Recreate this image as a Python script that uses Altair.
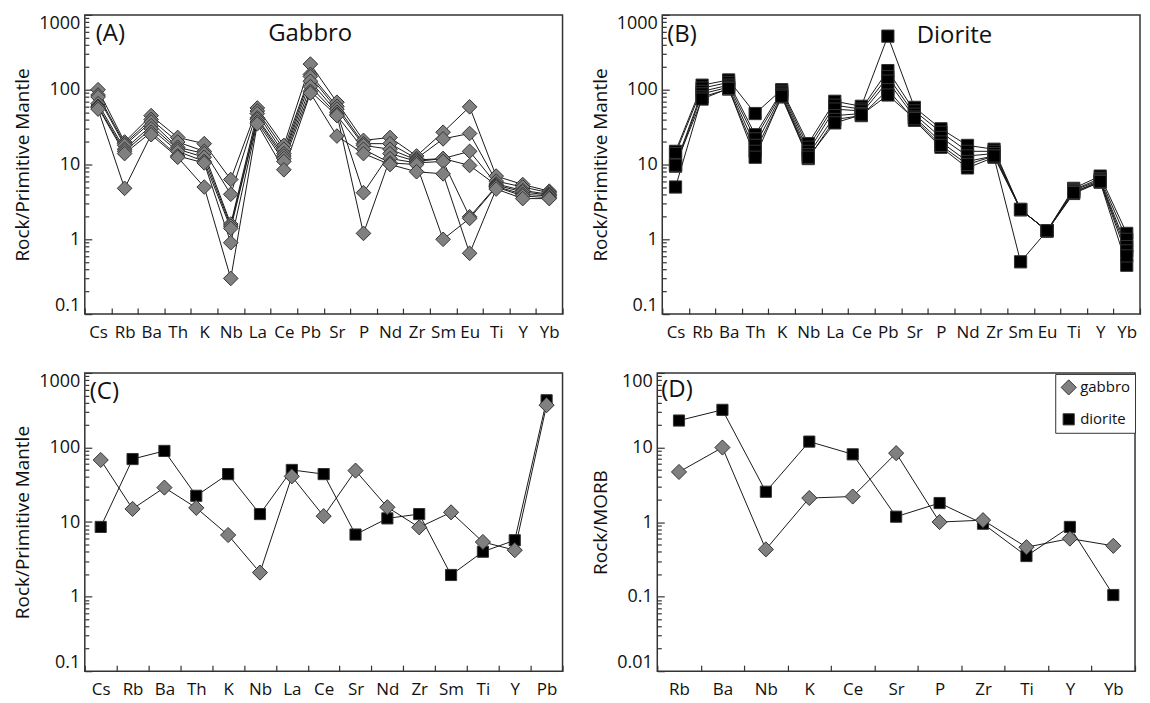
import altair as alt
import pandas as pd

# ---------------- categories ----------------
ELEMENTS_AB = ["Cs", "Rb", "Ba", "Th", "K", "Nb", "La", "Ce", "Pb", "Sr",
               "P", "Nd", "Zr", "Sm", "Eu", "Ti", "Y", "Yb"]
ELEMENTS_C = ["Cs", "Rb", "Ba", "Th", "K", "Nb", "La", "Ce", "Sr", "Nd",
              "Zr", "Sm", "Ti", "Y", "Pb"]
ELEMENTS_D = ["Rb", "Ba", "Nb", "K", "Ce", "Sr", "P", "Zr", "Ti", "Y", "Yb"]

# ---------------- (A) gabbro samples, rock / primitive mantle ----------------
gabbro_1 = [100, 20, 45, 23, 19, 6.3, 57, 18, 220, 68, 21, 23, 13, 27, 59, 7.0, 5.4, 4.4]
gabbro_2 = [85, 19, 40, 20, 15, 4.0, 52, 16, 160, 60, 19, 19, 12, 22, 26, 6.0, 5.0, 4.2]
gabbro_3 = [80, 18, 37, 17, 14, 1.6, 48, 14, 150, 55, 18, 16, 11.5, 12, 15, 5.5, 4.5, 4.0]
gabbro_4 = [65, 16, 33, 16, 12.5, 1.5, 42, 13, 130, 50, 4.2, 14, 11, 12, 9.7, 5.3, 4.3, 3.9]
gabbro_5 = [60, 15, 30, 15, 11, 1.4, 40, 12, 110, 47, 1.2, 12, 10.5, 11, 2.0, 5.1, 4.0, 3.8]
gabbro_6 = [58, 14, 27, 13, 10.5, 0.9, 37, 11, 95, 45, 16, 10.5, 10, 1.0, 1.9, 5.0, 3.8, 3.6]
gabbro_7 = [55, 4.8, 25, 12.5, 5.0, 0.3, 35, 8.5, 90, 24, 14, 10, 8, 7.5, 0.65, 4.7, 3.5, 3.5]

# ---------------- (B) diorite samples, rock / primitive mantle ----------------
diorite_1 = [15, 115, 135, 48, 100, 19, 70, 60, 520, 58, 30, 18, 16, 2.5, 1.3, 4.8, 7.0, 1.2]
diorite_2 = [14, 105, 125, 25, 95, 17, 62, 55, 180, 52, 27, 15, 15, 2.5, 1.3, 4.6, 6.5, 1.0]
diorite_3 = [10, 95, 115, 22, 90, 15, 55, 52, 150, 47, 23, 13, 14, 2.5, 1.3, 4.5, 6.2, 0.8]
diorite_4 = [9.5, 88, 108, 18, 85, 13.5, 45, 48, 130, 43, 20, 11, 13, 2.5, 1.3, 4.3, 6.0, 0.7]
diorite_5 = [5, 80, 102, 15, 80, 12, 40, 45, 100, 39, 17, 9, 12.5, 0.5, 1.3, 4.1, 5.8, 0.45]
diorite_6 = [9.8, 75, 104, 12.5, 82, 12.5, 36, 46, 85, 41, 18, 10, 13, 2.5, 1.3, 4.2, 5.9, 0.6]

# ---------------- (C) averages, rock / primitive mantle ----------------
c_gabbro = [68, 15, 29, 15.5, 6.7, 2.1, 41, 12, 49, 15.8, 8.5, 13.5, 5.4, 4.2, 370]
c_diorite = [8.6, 70, 90, 22.5, 44, 12.8, 50, 44, 6.8, 11.2, 12.8, 1.95, 4.0, 5.7, 430]

# ---------------- (D) averages, rock / MORB ----------------
d_gabbro = [4.7, 10, 0.43, 2.1, 2.2, 8.4, 1.0, 1.06, 0.46, 0.6, 0.48]
d_diorite = [23, 32, 2.55, 12, 8.1, 1.18, 1.8, 0.95, 0.35, 0.86, 0.105]

ROCKS = ["gabbro", "diorite"]

# tick values for the log axes (1-9 per decade)
TICKS_PM = [round(k * 10.0 ** e, 6) for e in range(-1, 3) for k in range(1, 10)] + [1000]
TICKS_MORB = [round(k * 10.0 ** e, 6) for e in range(-2, 2) for k in range(1, 10)] + [100]


def long_table(elements, named_series, rock):
    rows = []
    for name, vals in named_series.items():
        for el, v in zip(elements, vals):
            rows.append({"element": el, "value": v, "sample": name, "rock": rock})
    return pd.DataFrame(rows)


df_a = long_table(ELEMENTS_AB, {"g1": gabbro_1, "g2": gabbro_2, "g3": gabbro_3, "g4": gabbro_4,
                                "g5": gabbro_5, "g6": gabbro_6, "g7": gabbro_7}, "gabbro")
df_b = long_table(ELEMENTS_AB, {"d1": diorite_1, "d2": diorite_2, "d3": diorite_3,
                                "d4": diorite_4, "d5": diorite_5, "d6": diorite_6}, "diorite")
df_c = pd.concat([long_table(ELEMENTS_C, {"dio": c_diorite}, "diorite"),
                  long_table(ELEMENTS_C, {"gab": c_gabbro}, "gabbro")])
df_d = pd.concat([long_table(ELEMENTS_D, {"dio": d_diorite}, "diorite"),
                  long_table(ELEMENTS_D, {"gab": d_gabbro}, "gabbro")])

FONT = "Open Sans"
TXT = "#111111"
EDGE = "#333333"
W = 479
H_TOP, H_BOT = 300, 299

MAJOR = "abs(log(datum.value) / LN10 - round(log(datum.value) / LN10)) < 0.001"


def y_enc(title, domain, ticks, label_size):
    return alt.Y(
        "value:Q",
        scale=alt.Scale(type="log", domain=domain, nice=False),
        axis=alt.Axis(
            title=title, values=ticks, format="~g",
            labelExpr=f"({MAJOR}) ? datum.label : ''",
            labelFontSize={"condition": {"test": MAJOR, "value": label_size}, "value": 0},
            tickSize={"condition": {"test": MAJOR, "value": -7}, "value": -4},
            tickColor=EDGE, tickWidth=1.2, domain=False, grid=False,
            labelFlush=True, labelOverlap=False,
            labelFont=FONT, labelColor=TXT, labelPadding=12,
            titleFont=FONT, titleFontSize=19, titleFontWeight="normal", titleColor=TXT,
            titlePadding=6,
        ),
    )


def x_enc(elements, label_size):
    return alt.X(
        "element:N", sort=elements,
        scale=alt.Scale(type="band", domain=elements, paddingInner=0, paddingOuter=0),
        axis=alt.Axis(
            title=None, labelAngle=0, tickBand="extent",
            tickSize={"expr": "-6"}, tickColor=EDGE, tickWidth=1.2,
            domain=False, grid=False, labelOverlap=False,
            labelFont=FONT, labelFontSize=label_size, labelColor=TXT,
            labelBaseline="middle", labelPadding=24,
        ),
    )


def annotation(text, x, y, size, align="left"):
    return alt.Chart(pd.DataFrame({"t": [text]})).mark_text(
        font=FONT, fontSize=size, color=TXT, align=align, baseline="middle"
    ).encode(text="t:N", x=alt.value(x), y=alt.value(y))


def single_rock_panel(df, shape, fill, size, ytitle, tag, name):
    base = alt.Chart(df)
    xe = x_enc(ELEMENTS_AB, 17)
    ye = y_enc(ytitle, [0.1, 1000], TICKS_PM, 18)
    lines = base.mark_line(color="#1a1a1a", strokeWidth=1).encode(x=xe, y=ye, detail="sample:N")
    pts = base.mark_point(shape=shape, filled=True, fill=fill, stroke=EDGE,
                          strokeWidth=1, size=size, opacity=1).encode(x=xe, y=ye, detail="sample:N")
    return alt.layer(lines, pts, tag, name).properties(width=W, height=H_TOP)


panel_a = single_rock_panel(df_a, "diamond", "#808080", 215, "Rock/Primitive Mantle",
                            annotation("(A)", 11, 19, 24), annotation("Gabbro", 226, 19, 24, "center"))
panel_b = single_rock_panel(df_b, "square", "#000000", 150, "Rock/Primitive Mantle",
                            annotation("(B)", 5, 20, 24), annotation("Diorite", 293, 21, 24, "center"))


def two_rock_panel(df, elements, ydomain, ticks, ytitle, tag, legend):
    base = alt.Chart(df)
    xe = x_enc(elements, 17)
    ye = y_enc(ytitle, ydomain, ticks, 18)
    lines = base.mark_line(color="#1a1a1a", strokeWidth=1).encode(x=xe, y=ye, detail="rock:N")
    color = alt.Color("rock:N", scale=alt.Scale(domain=ROCKS, range=["#808080", "#000000"]),
                      legend=legend)
    shape = alt.Shape("rock:N", scale=alt.Scale(domain=ROCKS, range=["diamond", "square"]),
                      legend=legend)
    size = alt.Size("rock:N", scale=alt.Scale(domain=ROCKS, range=[230, 125]), legend=None)
    pts = base.mark_point(filled=True, stroke=EDGE, strokeWidth=1, opacity=1).encode(
        x=xe, y=ye, color=color, shape=shape, size=size)
    return alt.layer(lines, pts, tag).properties(width=W, height=H_BOT)


legend_d = alt.Legend(title=None, orient="none", legendX=W - 80, legendY=1,
                      strokeColor=EDGE, fillColor="white", padding=5, rowPadding=13,
                      labelFont=FONT, labelFontSize=15, labelColor=TXT, symbolSize=125,
                      symbolStrokeColor=EDGE, symbolStrokeWidth=1, labelOffset=3)

panel_c = two_rock_panel(df_c, ELEMENTS_C, [0.1, 1000], TICKS_PM, "Rock/Primitive Mantle",
                         annotation("(C)", 5, 19, 24), None)
panel_d = two_rock_panel(df_d, ELEMENTS_D, [0.01, 100], TICKS_MORB, "Rock/MORB",
                         annotation("(D)", 4, 17, 24), legend_d)

top = alt.hconcat(panel_a, panel_b, spacing=26)
bottom = alt.hconcat(panel_c, panel_d, spacing=26).resolve_scale(
    color="independent", shape="independent", size="independent")

chart = alt.vconcat(top, bottom, spacing=30).configure(
    padding={"left": 5, "top": 4, "right": 0, "bottom": 0},
    background="white",
).configure_view(stroke=EDGE, strokeWidth=1.5)

chart.save("out.html", embed_options={"renderer": "svg", "actions": False})
